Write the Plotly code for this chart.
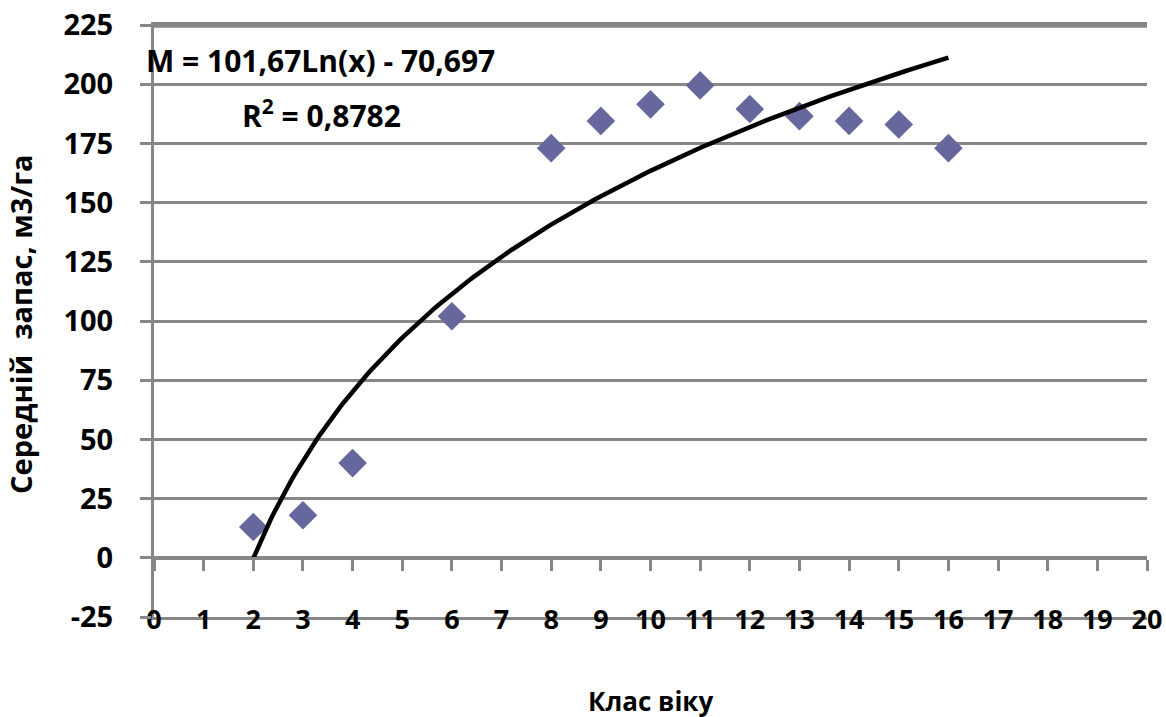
import numpy as np
import plotly.graph_objects as go

# Data
age_class = [2, 3, 4, 6, 8, 9, 10, 11, 12, 13, 14, 15, 16]
mean_stock = [13, 18, 40, 102, 173, 184.5, 191.5, 199.5, 189.5, 186.5, 184.5, 183, 173]
trend_a = 101.67
trend_b = -70.697
x_ticks = list(range(0, 21))
y_ticks = list(range(-25, 226, 25))
eq_text = "M = 101,67Ln(x) - 70,697"
r2_text = "R<sup>2</sup> = 0,8782"

FONT = "Open Sans"
GRID = "#878787"

xt = np.linspace(min(age_class), max(age_class), 200)
yt = trend_a * np.log(xt) + trend_b

fig = go.Figure()
fig.add_trace(go.Scatter(x=age_class, y=mean_stock, mode="markers",
                         marker=dict(symbol="diamond", size=22, color="#66679D",
                                     line=dict(width=0)),
                         showlegend=False, cliponaxis=False))
fig.add_trace(go.Scatter(x=xt, y=yt, mode="lines",
                         line=dict(color="black", width=4.5),
                         showlegend=False))
# helper trace for the crossing x axis at y=0
fig.add_trace(go.Scatter(x=[0, 20], y=[0, 0], xaxis="x2", mode="lines",
                         line=dict(width=0), hoverinfo="skip", showlegend=False))

fig.update_layout(
    width=1166, height=717,
    margin=dict(l=154, r=19, t=25, b=100, autoexpand=False),
    paper_bgcolor="white", plot_bgcolor="white",
    font=dict(family=FONT, color="black"),
    xaxis=dict(range=[0, 20], tickvals=x_ticks, ticktext=[str(v) for v in x_ticks],
               showgrid=False, zeroline=False, ticks="",
               showline=True, mirror=True, linecolor=GRID, linewidth=3,
               automargin=False, ticklabeloverflow="allow",
               tickfont=dict(size=27, family=FONT, weight="bold"),
               ticklabelstandoff=-23),
    xaxis2=dict(range=[0, 20], overlaying="x", anchor="free", position=0.1,
                side="bottom", showline=True, linecolor=GRID, linewidth=3,
                automargin=False,
                ticks="outside", ticklen=11, tickwidth=3, tickcolor=GRID,
                tickvals=x_ticks, showticklabels=False, showgrid=False, zeroline=False),
    yaxis=dict(range=[-25, 225], tickvals=y_ticks, ticktext=[str(v) for v in y_ticks],
               showgrid=True, gridcolor=GRID, gridwidth=3, zeroline=False,
               showline=True, linecolor=GRID, linewidth=3, automargin=False,
               ticklabeloverflow="allow",
               ticks="outside", ticklen=11, tickwidth=3, tickcolor=GRID,
               tickfont=dict(size=29, family=FONT, weight="bold"),
               ticklabelstandoff=21),
    shapes=[
        # top border of the plot area (the 225 gridline)
        dict(type="line", xref="x domain", yref="y domain", x0=0, x1=1, y0=0.998, y1=0.998,
             line=dict(color=GRID, width=3), layer="above"),
    ],
    annotations=[
        dict(text=eq_text, x=3.35, y=210, xref="x", yref="y", showarrow=False,
             font=dict(size=30, family=FONT, weight="bold"), xanchor="center", yanchor="middle"),
        dict(text=r2_text, x=3.38, y=187.3, xref="x", yref="y", showarrow=False,
             font=dict(size=30, family=FONT, weight="bold"), xanchor="center", yanchor="middle"),
        dict(text="Середній\u00a0\u00a0запас, м3/га", x=-0.134, y=0.495, xref="paper", yref="paper",
             textangle=-90, showarrow=False, xanchor="center", yanchor="middle",
             font=dict(size=29, family=FONT, weight="bold")),
        dict(text="Клас віку", x=0.5, y=-0.142, xref="paper", yref="paper",
             showarrow=False, xanchor="center", yanchor="middle",
             font=dict(size=26, family=FONT, weight="bold")),
    ],
)

# remove the default page margin so the figure fills the window exactly
fig.write_html("out.html", config={"displayModeBar": False},
               post_script="document.body.style.margin='0';")
